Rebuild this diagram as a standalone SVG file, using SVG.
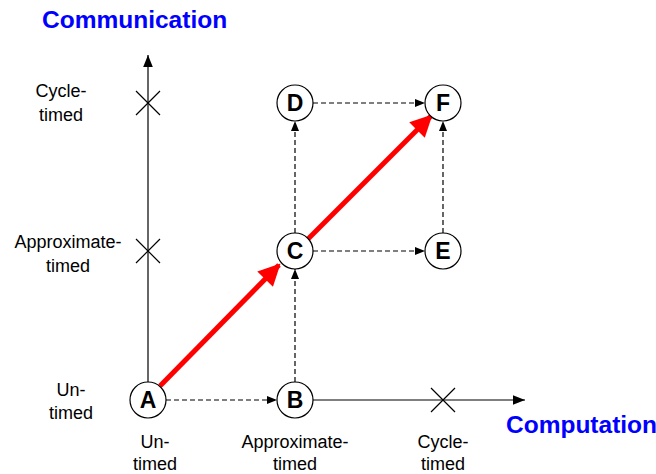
<svg xmlns="http://www.w3.org/2000/svg" width="656" height="474" viewBox="0 0 656 474">
<defs>
<style>
.lbl{font-family:"Liberation Sans",Arial,sans-serif;font-size:18px;fill:#000;text-anchor:middle}
.ttl{font-family:"Liberation Sans",Arial,sans-serif;font-size:24.5px;font-weight:bold;fill:#0000ff}
.nd circle{fill:#fff;stroke:#000;stroke-width:1.2}
.nd text{font-family:"Liberation Sans",Arial,sans-serif;font-size:23px;font-weight:bold;text-anchor:middle;fill:#000}
.ax{stroke:#000;stroke-width:1.2;fill:none}
.dash{stroke:#000;stroke-width:1.2;stroke-dasharray:5,3;fill:none}
.red{stroke:#ff0000;stroke-width:5;fill:none}
</style>
<marker id="ah" viewBox="0 0 10 10" refX="10" refY="5" markerWidth="10" markerHeight="10" markerUnits="userSpaceOnUse" orient="auto"><path d="M0,1 L10,5 L0,9 Z" fill="#000"/></marker>
<marker id="axh" viewBox="0 0 10 10" refX="10" refY="5" markerWidth="14" markerHeight="12" markerUnits="userSpaceOnUse" orient="auto"><path d="M0,1 L10,5 L0,9 Z" fill="#000"/></marker>
<marker id="rh" viewBox="0 0 10 10" refX="9" refY="5" markerWidth="26" markerHeight="22" markerUnits="userSpaceOnUse" orient="auto"><path d="M0,0 L10,5 L0,10 Z" fill="#ff0000"/></marker>
</defs>
<rect width="656" height="474" fill="#fff"/>
<text class="ttl" x="42" y="28">Communication</text>
<text class="ttl" x="506" y="433">Computation</text>
<g id="axes">
<line class="ax" x1="148" y1="382" x2="148" y2="55" marker-end="url(#axh)"/>
<line class="ax" x1="313" y1="400" x2="525" y2="400" marker-end="url(#axh)"/>
<path class="ax" d="M136,91 L160,115 M160,91 L136,115"/>
<path class="ax" d="M136,239 L160,263 M160,239 L136,263"/>
<path class="ax" d="M431,388 L455,412 M455,388 L431,412"/>
</g>
<g id="labels">
<text class="lbl" x="61" y="97">Cycle-</text>
<text class="lbl" x="61" y="121">timed</text>
<text class="lbl" x="68" y="248">Approximate-</text>
<text class="lbl" x="68" y="272">timed</text>
<text class="lbl" x="71" y="396">Un-</text>
<text class="lbl" x="71" y="419">timed</text>
<text class="lbl" x="155" y="448">Un-</text>
<text class="lbl" x="155" y="470">timed</text>
<text class="lbl" x="295" y="448">Approximate-</text>
<text class="lbl" x="295" y="470">timed</text>
<text class="lbl" x="443" y="448">Cycle-</text>
<text class="lbl" x="443" y="470">timed</text>
</g>
<g id="connectors">
<line class="dash" x1="166" y1="400" x2="277" y2="400" marker-end="url(#ah)"/>
<line class="dash" x1="295" y1="382" x2="295" y2="269" marker-end="url(#ah)"/>
<line class="dash" x1="295" y1="233" x2="295" y2="121" marker-end="url(#ah)"/>
<line class="dash" x1="313" y1="103" x2="425" y2="103" marker-end="url(#ah)"/>
<line class="dash" x1="313" y1="251" x2="425" y2="251" marker-end="url(#ah)"/>
<line class="dash" x1="443" y1="233" x2="443" y2="121" marker-end="url(#ah)"/>
<line class="red" x1="160" y1="386" x2="279" y2="265" marker-end="url(#rh)"/>
<line class="red" x1="308" y1="239" x2="431" y2="116" marker-end="url(#rh)"/>
</g>
<g id="A" class="nd"><circle cx="148" cy="400" r="18"/><text x="148" y="408">A</text></g>
<g id="B" class="nd"><circle cx="295" cy="400" r="18"/><text x="295" y="408">B</text></g>
<g id="C" class="nd"><circle cx="295" cy="251" r="18"/><text x="295" y="259">C</text></g>
<g id="D" class="nd"><circle cx="295" cy="103" r="18"/><text x="295" y="111">D</text></g>
<g id="E" class="nd"><circle cx="443" cy="251" r="18"/><text x="443" y="259">E</text></g>
<g id="F" class="nd"><circle cx="443" cy="103" r="18"/><text x="443" y="111">F</text></g>
</svg>
